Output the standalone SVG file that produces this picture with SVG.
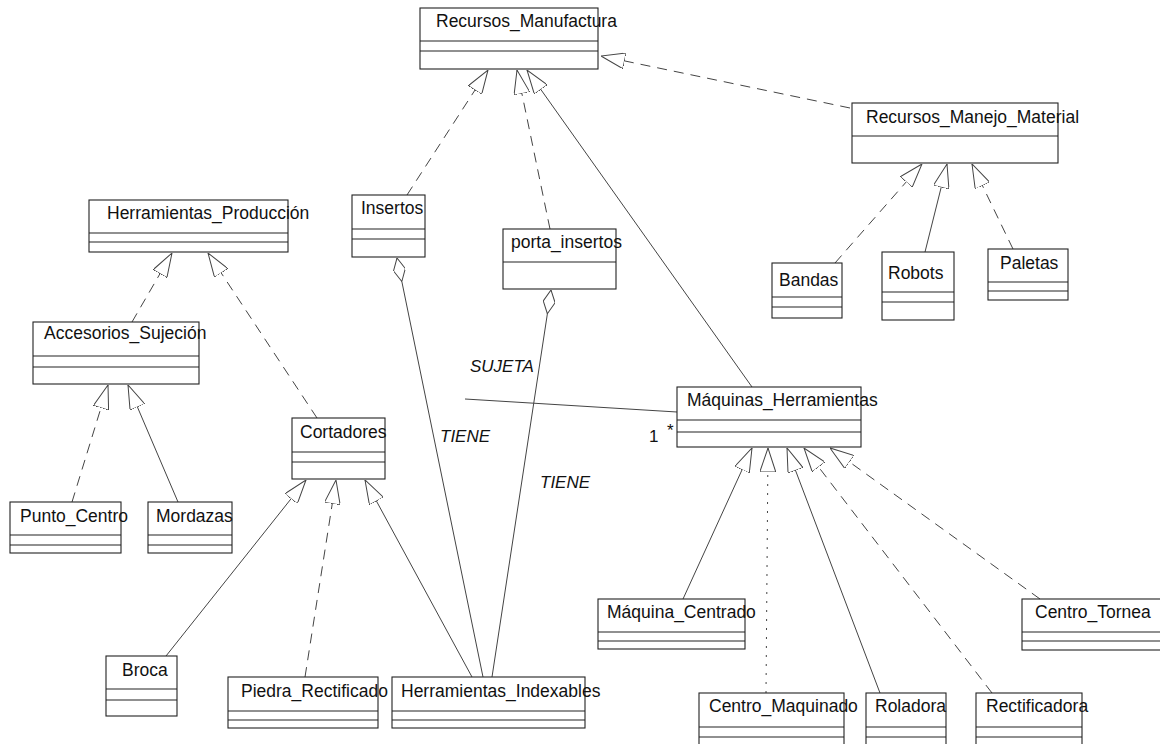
<svg xmlns="http://www.w3.org/2000/svg" width="1160" height="744" viewBox="0 0 1160 744">
<style>
.box{fill:none;stroke:#222;stroke-width:1.1}
.t{font-family:"Liberation Sans",Arial,sans-serif;font-size:17.5px;fill:#111}
.lbl{font-family:"Liberation Sans",Arial,sans-serif;font-size:17px;font-style:italic;fill:#111}
.num{font-family:"Liberation Sans",Arial,sans-serif;font-size:17px;fill:#111}
.c{stroke:#444;stroke-width:1;fill:none}
.d{stroke-dasharray:10 7}
.dot{stroke-dasharray:2 7}
.gen{marker-end:url(#tri)}
.agg{marker-end:url(#dia)}
</style>
<defs>
<marker id="tri" markerUnits="userSpaceOnUse" viewBox="0 0 24 16" refX="24" refY="8" markerWidth="24" markerHeight="16" orient="auto">
<path d="M0,0 L24,8 L0,16 Z" fill="#fff" stroke="#444" stroke-width="1"/>
</marker>
<marker id="dia" markerUnits="userSpaceOnUse" viewBox="0 0 24 12" refX="24" refY="6" markerWidth="24" markerHeight="12" orient="auto">
<path d="M0,6 L12,0 L24,6 L12,12 Z" fill="#fff" stroke="#444" stroke-width="1"/>
</marker>
</defs>
<rect width="1160" height="744" fill="#fff"/>

<g id="connectors">
<line class="c d gen" x1="850" y1="108" x2="601" y2="56"/>
<line class="c d gen" x1="407" y1="195" x2="488" y2="70"/>
<line class="c d gen" x1="550" y1="229" x2="517" y2="70"/>
<line class="c gen" x1="752" y1="387" x2="527" y2="70"/>
<line class="c d gen" x1="835" y1="263" x2="922" y2="164"/>
<line class="c gen" x1="925" y1="252" x2="947" y2="164"/>
<line class="c d gen" x1="1013" y1="249" x2="972" y2="164"/>
<line class="c d gen" x1="132" y1="322" x2="172" y2="253"/>
<line class="c d gen" x1="317" y1="418" x2="208" y2="253"/>
<line class="c d gen" x1="72" y1="502" x2="108" y2="385"/>
<line class="c gen" x1="178" y1="502" x2="128" y2="385"/>
<line class="c gen" x1="166" y1="656" x2="306" y2="480"/>
<line class="c d gen" x1="305" y1="677" x2="336" y2="480"/>
<line class="c gen" x1="472" y1="677" x2="365" y2="480"/>
<line class="c agg" x1="483" y1="677" x2="397" y2="258"/>
<line class="c agg" x1="492" y1="677" x2="551" y2="290"/>
<line class="c" x1="465" y1="399" x2="677" y2="412"/>
<line class="c gen" x1="683" y1="599" x2="752" y2="448"/>
<line class="c dot gen" x1="766" y1="693" x2="768" y2="448"/>
<line class="c gen" x1="880" y1="693" x2="787" y2="448"/>
<line class="c d gen" x1="992" y1="693" x2="804" y2="448"/>
<line class="c d gen" x1="1040" y1="599" x2="830" y2="448"/>
<text class="lbl" x="470" y="372">SUJETA</text>
<text class="lbl" x="440" y="442">TIENE</text>
<text class="lbl" x="540" y="488">TIENE</text>
<text class="num" x="649" y="442">1</text>
<text class="num" x="667" y="436">*</text>
</g>

<g id="recursos_manufactura">
<rect class="box" x="420" y="8" width="178" height="61"/>
<line class="box" x1="420" y1="41" x2="598" y2="41"/>
<line class="box" x1="420" y1="51" x2="598" y2="51"/>
<text class="t" x="436" y="27">Recursos_Manufactura</text>
</g>
<g id="recursos_manejo_material">
<rect class="box" x="852" y="103" width="206" height="60"/>
<line class="box" x1="852" y1="136" x2="1058" y2="136"/>
<text class="t" x="866" y="123">Recursos_Manejo_Material</text>
</g>
<g id="bandas">
<rect class="box" x="772" y="263" width="70" height="55"/>
<line class="box" x1="772" y1="297" x2="842" y2="297"/>
<line class="box" x1="772" y1="307" x2="842" y2="307"/>
<text class="t" x="779" y="286">Bandas</text>
</g>
<g id="robots">
<rect class="box" x="882" y="252" width="72" height="68"/>
<line class="box" x1="882" y1="292" x2="954" y2="292"/>
<line class="box" x1="882" y1="302" x2="954" y2="302"/>
<text class="t" x="888" y="279">Robots</text>
</g>
<g id="paletas">
<rect class="box" x="988" y="249" width="80" height="51"/>
<line class="box" x1="988" y1="282" x2="1068" y2="282"/>
<line class="box" x1="988" y1="291" x2="1068" y2="291"/>
<text class="t" x="1000" y="269">Paletas</text>
</g>
<g id="herramientas_produccion">
<rect class="box" x="89" y="200" width="199" height="52"/>
<line class="box" x1="89" y1="233" x2="288" y2="233"/>
<line class="box" x1="89" y1="242" x2="288" y2="242"/>
<text class="t" x="107" y="219">Herramientas_Producción</text>
</g>
<g id="insertos">
<rect class="box" x="352" y="195" width="73" height="62"/>
<line class="box" x1="352" y1="229" x2="425" y2="229"/>
<line class="box" x1="352" y1="239" x2="425" y2="239"/>
<text class="t" x="361" y="214">Insertos</text>
</g>
<g id="porta_insertos">
<rect class="box" x="503" y="229" width="113" height="60"/>
<line class="box" x1="503" y1="262" x2="616" y2="262"/>
<text class="t" x="511" y="248">porta_insertos</text>
</g>
<g id="accesorios_sujecion">
<rect class="box" x="33" y="322" width="166" height="62"/>
<line class="box" x1="33" y1="356" x2="199" y2="356"/>
<line class="box" x1="33" y1="367" x2="199" y2="367"/>
<text class="t" x="44" y="339">Accesorios_Sujeción</text>
</g>
<g id="cortadores">
<rect class="box" x="292" y="418" width="93" height="61"/>
<line class="box" x1="292" y1="452" x2="385" y2="452"/>
<line class="box" x1="292" y1="462" x2="385" y2="462"/>
<text class="t" x="300" y="438">Cortadores</text>
</g>
<g id="maquinas_herramientas">
<rect class="box" x="677" y="387" width="184" height="60"/>
<line class="box" x1="677" y1="420" x2="861" y2="420"/>
<line class="box" x1="677" y1="432" x2="861" y2="432"/>
<text class="t" x="687" y="406">Máquinas_Herramientas</text>
</g>
<g id="punto_centro">
<rect class="box" x="10" y="502" width="111" height="51"/>
<line class="box" x1="10" y1="535" x2="121" y2="535"/>
<line class="box" x1="10" y1="545" x2="121" y2="545"/>
<text class="t" x="20" y="522">Punto_Centro</text>
</g>
<g id="mordazas">
<rect class="box" x="148" y="502" width="84" height="51"/>
<line class="box" x1="148" y1="535" x2="232" y2="535"/>
<line class="box" x1="148" y1="545" x2="232" y2="545"/>
<text class="t" x="156" y="522">Mordazas</text>
</g>
<g id="broca">
<rect class="box" x="106" y="656" width="71" height="60"/>
<line class="box" x1="106" y1="689" x2="177" y2="689"/>
<line class="box" x1="106" y1="700" x2="177" y2="700"/>
<text class="t" x="122" y="676">Broca</text>
</g>
<g id="piedra_rectificado">
<rect class="box" x="228" y="677" width="150" height="51"/>
<line class="box" x1="228" y1="711" x2="378" y2="711"/>
<line class="box" x1="228" y1="720" x2="378" y2="720"/>
<text class="t" x="241" y="697">Piedra_Rectificado</text>
</g>
<g id="herramientas_indexables">
<rect class="box" x="392" y="677" width="193" height="51"/>
<line class="box" x1="392" y1="711" x2="585" y2="711"/>
<line class="box" x1="392" y1="720" x2="585" y2="720"/>
<text class="t" x="401" y="697">Herramientas_Indexables</text>
</g>
<g id="maquina_centrado">
<rect class="box" x="598" y="599" width="147" height="50"/>
<line class="box" x1="598" y1="632" x2="745" y2="632"/>
<line class="box" x1="598" y1="641" x2="745" y2="641"/>
<text class="t" x="607" y="618">Máquina_Centrado</text>
</g>
<g id="centro_torneado">
<rect class="box" x="1022" y="599" width="150" height="51"/>
<line class="box" x1="1022" y1="632" x2="1172" y2="632"/>
<line class="box" x1="1022" y1="641" x2="1172" y2="641"/>
<text class="t" x="1035" y="618">Centro_Tornea</text>
</g>
<g id="centro_maquinado">
<rect class="box" x="699" y="693" width="145" height="60"/>
<line class="box" x1="699" y1="727" x2="844" y2="727"/>
<line class="box" x1="699" y1="737" x2="844" y2="737"/>
<text class="t" x="709" y="712">Centro_Maquinado</text>
</g>
<g id="roladora">
<rect class="box" x="866" y="693" width="80" height="60"/>
<line class="box" x1="866" y1="727" x2="946" y2="727"/>
<line class="box" x1="866" y1="737" x2="946" y2="737"/>
<text class="t" x="875" y="712">Roladora</text>
</g>
<g id="rectificadora">
<rect class="box" x="976" y="693" width="106" height="60"/>
<line class="box" x1="976" y1="727" x2="1082" y2="727"/>
<line class="box" x1="976" y1="737" x2="1082" y2="737"/>
<text class="t" x="986" y="712">Rectificadora</text>
</g>
</svg>
